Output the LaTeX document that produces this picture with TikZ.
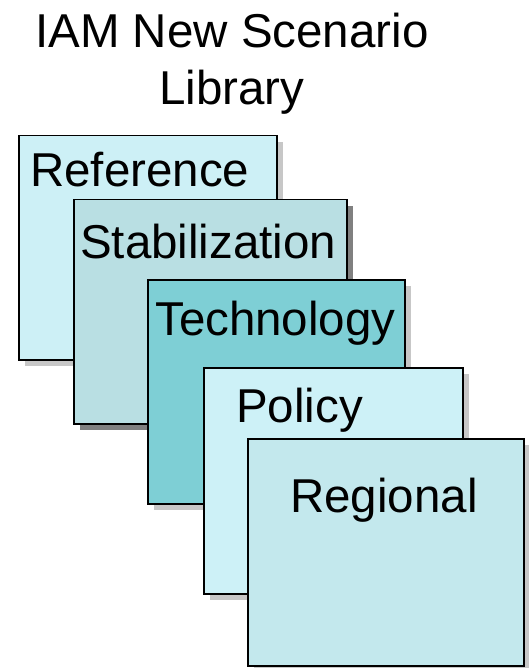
\documentclass[tikz,border=0pt]{standalone}
\usepackage{fontspec}
\setmainfont{Liberation Sans}
\usetikzlibrary{shadows}

\definecolor{refblue}{RGB}{205,240,246}
\definecolor{stabblue}{RGB}{185,223,227}
\definecolor{techblue}{RGB}{126,207,213}
\definecolor{polblue}{RGB}{205,241,247}
\definecolor{regblue}{RGB}{195,232,237}

\tikzset{
    card/.style={rectangle, draw=black, line width=1.5pt, anchor=north west,
        drop shadow={shadow xshift=6pt, shadow yshift=-6pt, fill=gray!55, opacity=0.8}},
    cardtext/.style={anchor=base west, inner sep=0pt, font=\fontsize{47.5}{57}\selectfont}
}

\begin{document}
\begin{tikzpicture}[x=1pt, y=-1pt]
    \useasboundingbox (0,0) rectangle (528,668);

    \node[anchor=base, align=center, inner sep=0pt, font=\fontsize{47.5}{57}\selectfont] (title) at (232,105) {IAM New Scenario\\Library};

    % the stack of scenario cards, back to front
    \node[card, fill=refblue, minimum width=258pt, minimum height=224pt] (ref) at (18,135) {};
    \node[cardtext] (reftext) at ([xshift=12pt, yshift=-52pt]ref.north west) {Reference};

    \node[card, fill=stabblue, minimum width=273pt, minimum height=224pt,
        drop shadow={shadow xshift=6pt, shadow yshift=-6pt, fill=gray, opacity=1}] (stab) at (73,199) {};
    \node[cardtext] (stabtext) at ([xshift=7pt, yshift=-59pt]stab.north west) {Stabilization};

    \node[card, fill=techblue, minimum width=257pt, minimum height=224pt] (tech) at (147,279) {};
    \node[cardtext] (techtext) at ([xshift=8pt, yshift=-56pt]tech.north west) {Technology};

    \node[card, fill=polblue, minimum width=259pt, minimum height=226pt] (pol) at (203,367) {};
    \node[cardtext] (poltext) at ([xshift=33pt, yshift=-55pt]pol.north west) {Policy};

    \node[card, fill=regblue, minimum width=276pt, minimum height=227pt] (reg) at (247,438) {};
    \node[cardtext] (regtext) at ([xshift=43pt, yshift=-74pt]reg.north west) {Regional};

\end{tikzpicture}
\end{document}
